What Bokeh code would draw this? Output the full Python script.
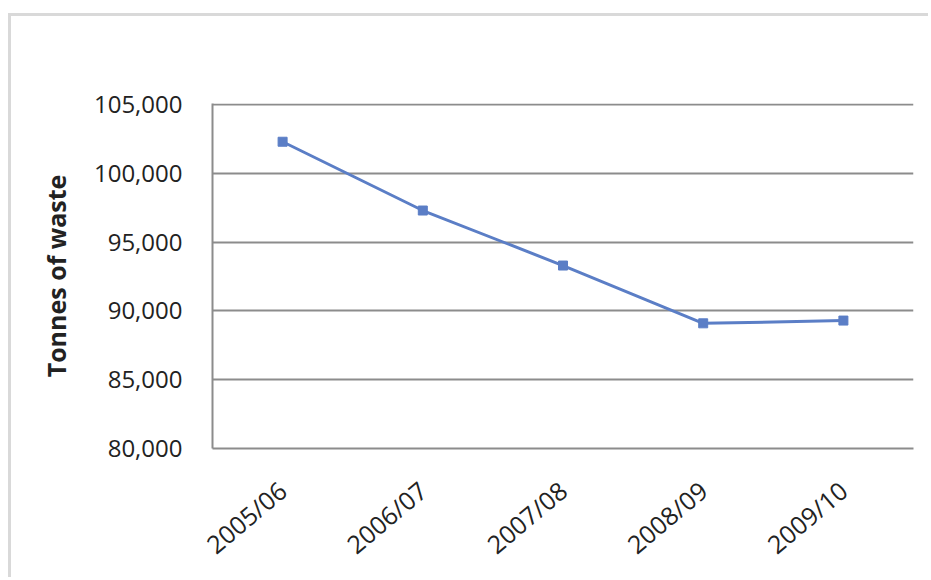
from bokeh.plotting import figure
from bokeh.models import FactorRange, Range1d, FixedTicker, NumeralTickFormatter, Label
from bokeh.embed import file_html
from bokeh.resources import INLINE
import math

categories = ["2005/06", "2006/07", "2007/08", "2008/09", "2009/10"]
tonnes = [102300, 97300, 93300, 89100, 89300]
y_ticks = [80000, 85000, 90000, 95000, 100000, 105000]
title_text = "Trend in municipal waste collected"

FONT = "Open Sans"
BLUE = "#5b7ec6"
GRID = "#8c8c8c"

p = figure(width=920, height=564, x_range=FactorRange(*categories),
           y_range=Range1d(80000, 105080), output_backend="svg",
           toolbar_location=None, min_border_left=201, min_border_right=18,
           min_border_top=87, min_border_bottom=132,
           margin=(13, 0, 0, 8),
           styles={"border-top": "3px solid #d9d9d9", "border-left": "3px solid #d9d9d9"})

# title as a label placed relative to the plot frame (screen units: y up from frame bottom)
p.add_layout(Label(x=5, y=385, x_units="screen", y_units="screen", text=title_text,
                   text_font=FONT, text_font_size="30px", text_font_style="bold",
                   text_color="#222222", text_baseline="alphabetic", text_align="left"))

p.line(categories, tonnes, line_color=BLUE, line_width=3)
p.scatter(categories, tonnes, marker="square", size=9, fill_color=BLUE, line_color=BLUE)

p.yaxis.ticker = FixedTicker(ticks=y_ticks)
p.yaxis.formatter = NumeralTickFormatter(format="0,0")
p.yaxis.axis_label = "Tonnes of waste"
p.yaxis.axis_label_text_font = FONT
p.yaxis.axis_label_text_font_size = "25px"
p.yaxis.axis_label_text_font_style = "bold"
p.yaxis.axis_label_text_color = "#222222"
p.yaxis.axis_label_standoff = 18

for ax in (p.xaxis, p.yaxis):
    ax.major_label_text_font = FONT
    ax.major_label_text_font_size = "24px"
    ax.major_label_text_color = "#222222"
    ax.axis_line_color = GRID
    ax.axis_line_width = 2
    ax.major_tick_line_color = None
    ax.minor_tick_line_color = None

p.xaxis.major_label_text_font_size = "25px"
p.yaxis.major_label_standoff = 24
p.xaxis.major_label_orientation = math.radians(40)
p.xaxis.major_label_standoff = 32

p.xgrid.grid_line_color = None
p.ygrid.grid_line_color = GRID
p.ygrid.grid_line_width = 2
p.outline_line_color = None

open("out.html", "w").write(file_html(p, INLINE))
